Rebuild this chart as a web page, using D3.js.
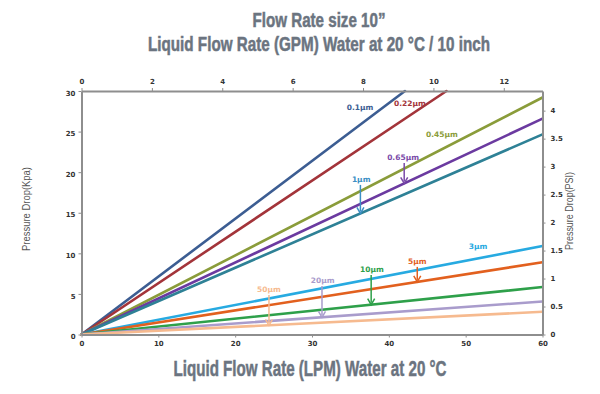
<!DOCTYPE html>
<html><head><meta charset="utf-8">
<script src="https://cdn.jsdelivr.net/npm/d3@7"></script>
<style>body{margin:0;background:#fff}svg{display:block}</style>
</head><body>
<svg id="c" width="600" height="394"></svg>
<script>
// ---- data ----
const grades = ["0.1µm","0.22µm","0.45µm","0.65µm","1µm","3µm","5µm","10µm","20µm","50µm"];
const endFlowLPM = [42.1, 47.5, 60, 60, 60, 60, 60, 60, 60, 60];
const endPressureKpa = [30, 30, 29.2, 26.6, 24.65, 10.9, 8.9, 5.85, 4.07, 2.8];
const lineColors = ["#3c5d92","#a3343a","#8a9c3a","#6b3aa0","#2e8196","#27aae1","#e2601e","#2ea04a","#a99ccc","#f6ba8f"];
const labelColors = ["#3c5d92","#a3343a","#8a9c3a","#7a4aa8","#3b8fc4","#27aae1","#e2601e","#2ea04a","#a99ccc","#f6ba8f"];
// annotation positions (data units): label centre flow / pressure, arrow flow (null = no arrow)
const labelFlow = [36.25, 42.75, 46.9, 41.85, 36.4, 51.6, 43.7, 37.8, 31.4, 24.4];
const labelKpa  = [27.7, 28.1, 24.3, 21.5, 18.8, 10.55, 8.7, 7.7, 6.36, 5.25];
const arrowFlow = [null, null, null, 42, 36.3, null, 43.7, 37.7, 31.3, 24.4];
const lpmTicks = [0,10,20,30,40,50,60];
const gpmTicks = [0,2,4,6,8,10,12];
const kpaTicks = [0,5,10,15,20,25,30];
const psiTicks = [0,0.5,1,1.5,2,2.5,3,3.5,4];

const svg = d3.select("#c");
const L=81.5, R=542.5, T=91, B=334.5;
const x = d3.scaleLinear().domain([0,60]).range([L,R]);
const xg = d3.scaleLinear().domain([0,13.1]).range([L,R]);
const y = d3.scaleLinear().domain([0,30]).range([B,T]);
const yp = d3.scaleLinear().domain([0,4.351]).range([B,T]);

// titles
const titleColor="#6b7480";
function condText(txt, cx, cy, size, len){
  svg.append("text").attr("x",cx).attr("y",cy).attr("text-anchor","middle")
    .attr("font-family","Liberation Sans Narrow, Liberation Sans, Arial, sans-serif")
    .attr("font-weight","bold").attr("font-size",size).attr("fill",titleColor)
    .attr("stroke",titleColor).attr("stroke-width",0.5)
    .attr("textLength",len).attr("lengthAdjust","spacingAndGlyphs").text(txt);
}
condText("Flow Rate size 10”", 319, 27, 19.5, 133);
condText("Liquid Flow Rate (GPM) Water at 20 °C / 10 inch", 319, 51, 19.5, 342);
condText("Liquid Flow Rate (LPM) Water at 20 °C", 310, 376, 21.5, 273);

// axis titles
svg.append("text").attr("transform","translate(30,209) rotate(-90)").attr("text-anchor","middle")
  .attr("font-family","Liberation Sans, Arial, sans-serif").attr("font-size",10).attr("fill","#555")
  .attr("textLength",84).attr("lengthAdjust","spacingAndGlyphs").text("Pressure Drop(Kpa)");
svg.append("text").attr("transform","translate(573,211) rotate(-90)").attr("text-anchor","middle")
  .attr("font-family","Liberation Sans, Arial, sans-serif").attr("font-size",10).attr("fill","#555")
  .attr("textLength",78).attr("lengthAdjust","spacingAndGlyphs").text("Pressure Drop(PSI)");

// lines
const g = svg.append("g");
grades.forEach((gname,i)=>{
  g.append("line").attr("x1",x(0)).attr("y1",y(0)).attr("x2",x(endFlowLPM[i])).attr("y2",y(endPressureKpa[i]))
   .attr("stroke",lineColors[i]).attr("stroke-width",2.6).attr("stroke-linecap","round");
});

// axes
function styleAxis(sel){
  sel.select(".domain").attr("stroke","#8e8e8e").attr("stroke-width",2);
  sel.selectAll(".tick line").attr("stroke","#8e8e8e").attr("stroke-width",1);
  sel.selectAll(".tick text").attr("font-family","DejaVu Sans, sans-serif").attr("font-size",7)
     .attr("font-weight","bold").attr("fill","#333");
}
const fmt = d => String(d);
svg.append("g").attr("transform",`translate(0,${B})`)
  .call(d3.axisBottom(x).tickValues(lpmTicks).tickFormat(fmt).tickSize(3).tickSizeOuter(0).tickPadding(4)).call(styleAxis);
svg.append("g").attr("transform",`translate(0,${T})`)
  .call(d3.axisTop(xg).tickValues(gpmTicks).tickFormat(fmt).tickSize(3).tickSizeOuter(0).tickPadding(4)).call(styleAxis);
svg.append("g").attr("transform",`translate(${L},0)`)
  .call(d3.axisLeft(y).tickValues(kpaTicks).tickFormat(fmt).tickSize(3).tickSizeOuter(0).tickPadding(3)).call(styleAxis)
  .selectAll(".tick text").attr("dy","0.6em");
svg.append("g").attr("transform",`translate(${R},0)`)
  .call(d3.axisRight(yp).tickValues(psiTicks).tickFormat(fmt).tickSize(3).tickSizeOuter(0).tickPadding(5)).call(styleAxis);

// labels & arrows
grades.forEach((gname,i)=>{
  const lx = x(labelFlow[i]), ly = y(labelKpa[i]);
  svg.append("text").attr("x",lx).attr("y",ly).attr("text-anchor","middle")
    .attr("font-family","DejaVu Sans, sans-serif").attr("font-weight","bold").attr("font-size",7.5)
    .attr("fill",labelColors[i]).text(gname);
  if(arrowFlow[i]!==null){
    const ax = x(arrowFlow[i]);
    const tipY = y(endPressureKpa[i]*arrowFlow[i]/endFlowLPM[i]);
    const c = labelColors[i];
    svg.append("line").attr("x1",ax).attr("y1",ly+3).attr("x2",ax).attr("y2",tipY-2)
      .attr("stroke",c).attr("stroke-width",1.5);
    svg.append("path").attr("d",`M${ax-3.5},${tipY-6} L${ax},${tipY} L${ax+3.5},${tipY-6}`)
      .attr("fill","none").attr("stroke",c).attr("stroke-width",1.5);
  }
});
</script>
</body></html>
